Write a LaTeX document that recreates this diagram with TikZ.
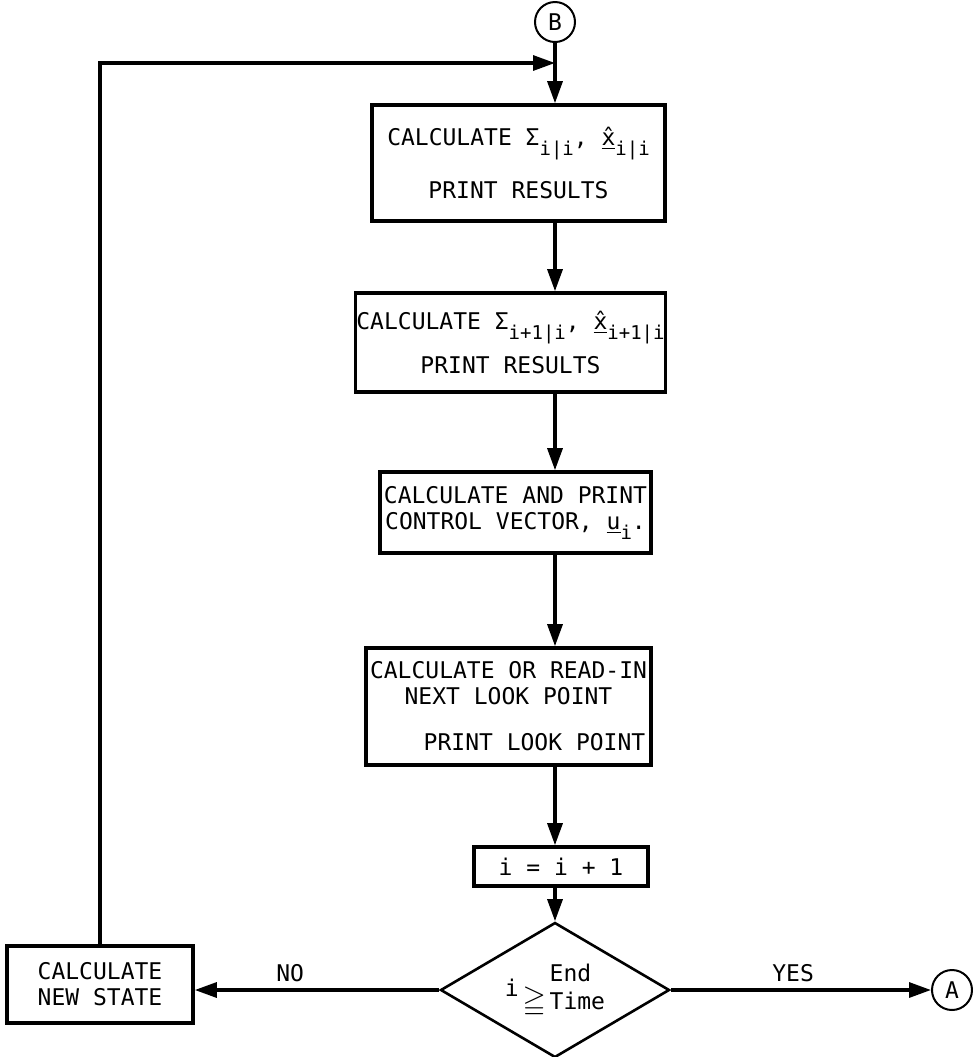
\documentclass[tikz,border=0pt]{standalone}
\usepackage{fontspec}
\usepackage{amssymb}
\setmainfont{DejaVu Sans Mono}
\usetikzlibrary{arrows.meta,positioning,shapes.geometric}
\newcommand{\sub}[1]{\raisebox{-0.8ex}{\fontsize{9.5}{9.5}\selectfont #1}}
\newcommand{\hatx}{\underline{x̂}}

\begin{document}
\begin{tikzpicture}[
  x=0.5pt, y=-0.5pt,
  box/.style={rectangle, draw, line width=1.8pt, align=center, inner sep=2pt, font=\fontsize{11.5}{13}\selectfont},
  dec/.style={diamond, draw, line width=1.3pt, inner sep=0pt, align=center, font=\fontsize{11.5}{14}\selectfont},
  con/.style={circle, draw, line width=1pt, minimum size=20pt, inner sep=0pt, font=\fontsize{11.5}{13}\selectfont},
  arr/.style={-{Triangle[length=11pt,width=7.5pt]}, line width=1.6pt}
]
\useasboundingbox (0,0) rectangle (973,1057);
\node[con] (B) at (555,22) {B};
\node[box, minimum width=146.5pt, minimum height=58pt] (c1) at (518.5,163)
  {CALCULATE Σ\sub{i|i}, \hatx\sub{i|i}\\[10pt]PRINT RESULTS};
\node[box, inner xsep=0.5pt, minimum width=154.5pt, minimum height=49.5pt] (c2) at (510.5,342.5)
  {CALCULATE Σ\sub{i+1|i}, \hatx\sub{i+1|i}\\[5pt]PRINT RESULTS};
\node[box, minimum width=134.5pt, minimum height=40.5pt] (c3) at (515.5,512.5)
  {CALCULATE AND PRINT\\CONTROL VECTOR, \underline{u}\sub{i}.};
\node[box, minimum width=141.5pt, minimum height=58.5pt] (c4) at (508.5,706.5)
  {CALCULATE OR READ-IN\\NEXT LOOK POINT\\[10pt]\hspace*{26pt}PRINT LOOK POINT};
\node[box, minimum width=87pt, minimum height=19.5pt] (c5) at (561,866.5) {i = i + 1};
\node[dec, minimum width=114.5pt, minimum height=67.5pt, shape aspect=1.7] (d1) at (555,990)
  {i\,\raisebox{-1.1ex}{\scalebox{1.3}{$\geqq$}}\,\begin{tabular}{@{}l@{}}End\\Time\end{tabular}};
\node[box, minimum width=93pt, minimum height=38.5pt] (news) at (100,984.5) {CALCULATE\\NEW STATE};
\node[con] (A) at (952,990) {A};
\coordinate (jn) at (555,63);

\draw[arr] (news.north) |- (jn);
\draw[arr] (B) -- (c1.north -| B);
\draw[arr] (c1.south -| B) -- (c2.north -| B);
\draw[arr] (c2.south -| B) -- (c3.north -| B);
\draw[arr] (c3.south -| B) -- (c4.north -| B);
\draw[arr] (c4.south -| B) -- (c5.north -| B);
\draw[arr] (c5.south -| B) -- (d1.north);
\draw[arr] (d1.west) -- node[above, pos=0.61, font=\fontsize{11.5}{13}\selectfont]{NO} (news.east |- d1.west);
\draw[arr] (d1.east) -- node[above, pos=0.47, font=\fontsize{11.5}{13}\selectfont]{YES} (A.west);
\end{tikzpicture}
\end{document}
